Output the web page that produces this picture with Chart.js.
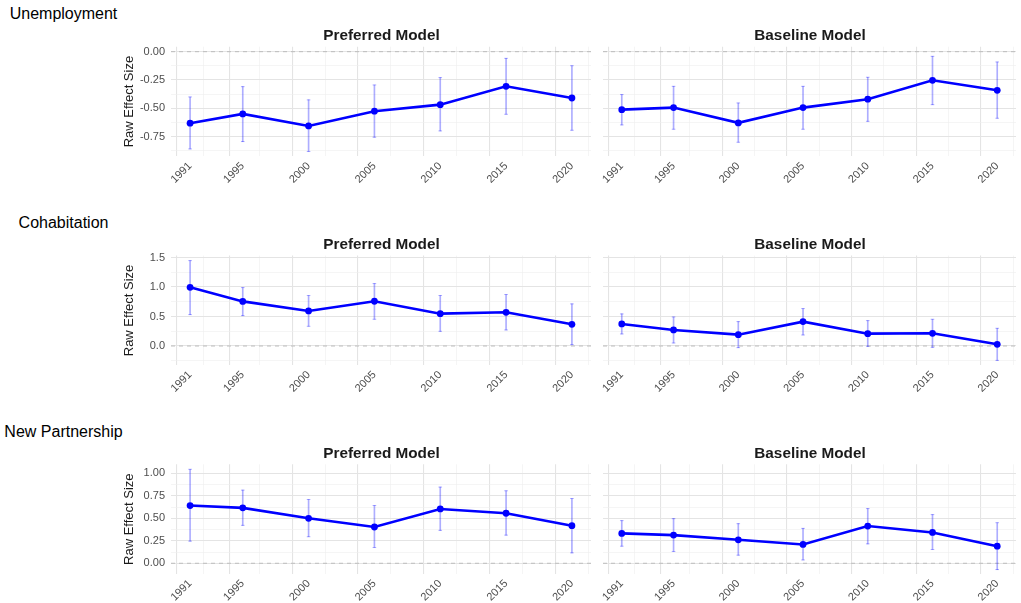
<!DOCTYPE html>
<html>
<head>
<meta charset="utf-8">
<script src="https://cdn.jsdelivr.net/npm/chart.js@4.4.1/dist/chart.umd.min.js"></script>
<style>
  html, body { margin: 0; padding: 0; background: #ffffff; }
  #fig { position: relative; width: 1021px; height: 603px; overflow: hidden;
         font-family: 'Liberation Sans', Arial, Helvetica, sans-serif; }
  .row-title { position: absolute; font-size: 16px; line-height: 16px; color: #000;
               white-space: nowrap; transform: translateX(-50%); }
  .panel-title { position: absolute; font-size: 15.3px; line-height: 15.3px; font-weight: bold;
                 color: #1a1a1a; white-space: nowrap; transform: translateX(-50%); }
  canvas { position: absolute; }
</style>
</head>
<body>
<div id="fig"></div>
<script>
// ---- data ----
const years = [1991, 1995, 2000, 2005, 2010, 2015, 2020];
const xTickYears = [1991, 1995, 2000, 2005, 2010, 2015, 2020];
const outcomes = ['Unemployment', 'Cohabitation', 'New Partnership'];
const models = ['Preferred Model', 'Baseline Model'];

const unempPrefEst = [-0.632, -0.550, -0.656, -0.526, -0.468, -0.306, -0.409];
const unempPrefLo  = [-0.859, -0.794, -0.882, -0.756, -0.700, -0.553, -0.694];
const unempPrefHi  = [-0.400, -0.309, -0.426, -0.294, -0.229, -0.059, -0.124];
const unempBaseEst = [-0.512, -0.494, -0.629, -0.494, -0.420, -0.253, -0.341];
const unempBaseLo  = [-0.647, -0.685, -0.800, -0.685, -0.615, -0.468, -0.588];
const unempBaseHi  = [-0.379, -0.306, -0.453, -0.306, -0.226, -0.041, -0.091];

const cohabPrefEst = [0.994, 0.756, 0.594, 0.758, 0.548, 0.571, 0.368];
const cohabPrefLo  = [0.532, 0.515, 0.334, 0.453, 0.249, 0.272, 0.023];
const cohabPrefHi  = [1.447, 0.990, 0.855, 1.058, 0.855, 0.872, 0.713];
const cohabBaseEst = [0.374, 0.272, 0.192, 0.413, 0.209, 0.215, 0.028];
const cohabBaseLo  = [0.204, 0.051, -0.028, 0.187, -0.006, -0.023, -0.244];
const cohabBaseHi  = [0.543, 0.492, 0.413, 0.634, 0.430, 0.453, 0.300];

const newpPrefEst = [0.642, 0.616, 0.500, 0.403, 0.604, 0.556, 0.418];
const newpPrefLo  = [0.246, 0.422, 0.295, 0.175, 0.366, 0.313, 0.116];
const newpPrefHi  = [1.045, 0.813, 0.709, 0.642, 0.847, 0.806, 0.720];
const newpBaseEst = [0.332, 0.313, 0.261, 0.209, 0.414, 0.343, 0.190];
const newpBaseLo  = [0.190, 0.131, 0.090, 0.037, 0.216, 0.153, -0.070];
const newpBaseHi  = [0.474, 0.496, 0.440, 0.388, 0.608, 0.541, 0.451];

const unempYTicks = [-0.75, -0.5, -0.25, 0];
const cohabYTicks = [0, 0.5, 1, 1.5];
const newpYTicks  = [0, 0.25, 0.5, 0.75, 1];

// ---- layout & style ----
const FONT = "'Liberation Sans', Arial, Helvetica, sans-serif";
const X_MIN = 1989.55, X_MAX = 2021.45;
const PANEL_H = 109.8;
const X_AXIS_H = 48;
const LINE_COL = '#0000FF';
const ERR_COL = 'rgba(0, 0, 255, 0.32)';
const MAJOR_GRID = '#e4e4e4';
const MINOR_GRID = '#efefef';

const rows = [
  { title: outcomes[0], ticks: unempYTicks, dec: 2, yMin: -0.926, yMax: 0.044, top: 46.7,
    titleBase: 20, panelBase: 40,
    series: [[unempPrefEst, unempPrefLo, unempPrefHi], [unempBaseEst, unempBaseLo, unempBaseHi]] },
  { title: outcomes[1], ticks: cohabYTicks, dec: 1, yMin: -0.329, yMax: 1.532, top: 255.6,
    titleBase: 229, panelBase: 248.8,
    series: [[cohabPrefEst, cohabPrefLo, cohabPrefHi], [cohabBaseEst, cohabBaseLo, cohabBaseHi]] },
  { title: outcomes[2], ticks: newpYTicks, dec: 2, yMin: -0.1205, yMax: 1.1005, top: 464.3,
    titleBase: 437.7, panelBase: 457.6,
    series: [[newpPrefEst, newpPrefLo, newpPrefHi], [newpBaseEst, newpBaseLo, newpBaseHi]] }
];

// panel columns: canvas box and plot-area extent
const cols = [
  { left: 100, width: 496, padL: 0, padR: 4, yWidth: 71, center: 381.5 },
  { left: 598, width: 423, padL: 2, padR: 1, yWidth: 0, center: 810 }
];

const key = v => Math.round(v * 10000) / 10000;

// grid positions: majors plus midpoints (one step beyond each end), kept inside the range
function gridValues(majors, lo, hi) {
  const n = majors.length;
  const ext = [2 * majors[0] - majors[1], ...majors, 2 * majors[n - 1] - majors[n - 2]];
  const minors = [];
  for (let i = 0; i < ext.length - 1; i++) minors.push((ext[i] + ext[i + 1]) / 2);
  return [...majors, ...minors].filter(v => v >= lo && v <= hi).sort((a, b) => a - b);
}

const fig = document.getElementById('fig');

function addText(cls, text, cx, top) {
  const d = document.createElement('div');
  d.className = cls;
  d.textContent = text;
  d.style.left = cx + 'px';
  d.style.top = top + 'px';
  fig.appendChild(d);
}

const xMajor = new Set(xTickYears.map(key));
const xGrid = gridValues(xTickYears, X_MIN, X_MAX);

function makePanel(row, ci) {
  const col = cols[ci];
  const [est, lo, hi] = row.series[ci];
  const cTop = Math.floor(row.top) - 10;
  const padTop = row.top - cTop;
  const cHeight = Math.ceil(padTop + PANEL_H + X_AXIS_H);
  const padBottom = cHeight - padTop - PANEL_H - X_AXIS_H;

  const canvas = document.createElement('canvas');
  canvas.width = col.width;
  canvas.height = cHeight;
  canvas.style.left = col.left + 'px';
  canvas.style.top = cTop + 'px';
  canvas.style.width = col.width + 'px';
  canvas.style.height = cHeight + 'px';
  fig.appendChild(canvas);

  const yMajor = new Set(row.ticks.map(key));
  const yGrid = gridValues(row.ticks, row.yMin, row.yMax);

  const capData = [];
  years.forEach((x, i) => { capData.push({ x, y: lo[i] }); capData.push({ x, y: hi[i] }); });

  new Chart(canvas, {
    type: 'line',
    data: {
      datasets: [
        { type: 'line', data: years.map((x, i) => ({ x, y: est[i] })),
          borderColor: LINE_COL, backgroundColor: LINE_COL, borderWidth: 2.6,
          pointRadius: 3.4, pointHoverRadius: 3.4, pointBorderWidth: 0,
          pointBackgroundColor: LINE_COL, tension: 0, order: 0 },
        { type: 'scatter', data: capData, pointStyle: 'line', pointRadius: 1.8,
          pointBorderColor: ERR_COL, borderColor: ERR_COL, pointBorderWidth: 1, order: 1 },
        { type: 'bar', data: years.map((x, i) => ({ x, y: [lo[i], hi[i]] })),
          backgroundColor: ERR_COL, borderWidth: 0, barThickness: 1, grouped: false, order: 2 },
        { type: 'line', data: [{ x: X_MIN, y: 0 }, { x: X_MAX, y: 0 }],
          borderColor: '#bdbdbd', borderWidth: 1, borderDash: [4, 4],
          pointRadius: 0, tension: 0, order: 3 }
      ]
    },
    options: {
      responsive: false,
      animation: false,
      events: [],
      layout: { padding: { left: col.padL, right: col.padR, top: padTop, bottom: padBottom } },
      plugins: { legend: { display: false }, tooltip: { enabled: false }, title: { display: false } },
      scales: {
        x: {
          type: 'linear', min: X_MIN, max: X_MAX, offset: false,
          afterBuildTicks: s => { s.ticks = xGrid.map(v => ({ value: v })); },
          afterFit: s => { s.height = X_AXIS_H; s.paddingLeft = 0; s.paddingRight = 0; },
          ticks: {
            autoSkip: false, minRotation: 45, maxRotation: 45, padding: 3,
            color: '#4d4d4d', font: { family: FONT, size: 11 },
            callback: v => xMajor.has(key(v)) ? String(v) : ''
          },
          grid: {
            drawTicks: false,
            color: c => (c.tick && xMajor.has(key(c.tick.value))) ? MAJOR_GRID : MINOR_GRID,
            lineWidth: c => (c.tick && xMajor.has(key(c.tick.value))) ? 1.1 : 0.6
          },
          border: { display: false }
        },
        y: {
          type: 'linear', min: row.yMin, max: row.yMax,
          afterBuildTicks: s => { s.ticks = yGrid.map(v => ({ value: v })); },
          afterFit: s => { s.width = col.yWidth; s.paddingTop = 0; s.paddingBottom = 0; },
          ticks: {
            display: ci === 0, autoSkip: false, padding: 6,
            color: '#4d4d4d', font: { family: FONT, size: 11 },
            callback: v => yMajor.has(key(v)) ? Number(v).toFixed(row.dec) : ''
          },
          title: {
            display: ci === 0, text: 'Raw Effect Size', color: '#1a1a1a',
            font: { family: FONT, size: 13 }, padding: { top: 21.7, bottom: 0 }
          },
          grid: {
            drawTicks: false,
            color: c => (c.tick && yMajor.has(key(c.tick.value))) ? MAJOR_GRID : MINOR_GRID,
            lineWidth: c => (c.tick && yMajor.has(key(c.tick.value))) ? 1.1 : 0.6
          },
          border: { display: false }
        }
      }
    }
  });

  addText('panel-title', models[ci], col.center, row.panelBase - 13.0);
}

rows.forEach(row => {
  addText('row-title', row.title, 63.5, row.titleBase - 13.6);
  makePanel(row, 0);
  makePanel(row, 1);
});
</script>
</body>
</html>
